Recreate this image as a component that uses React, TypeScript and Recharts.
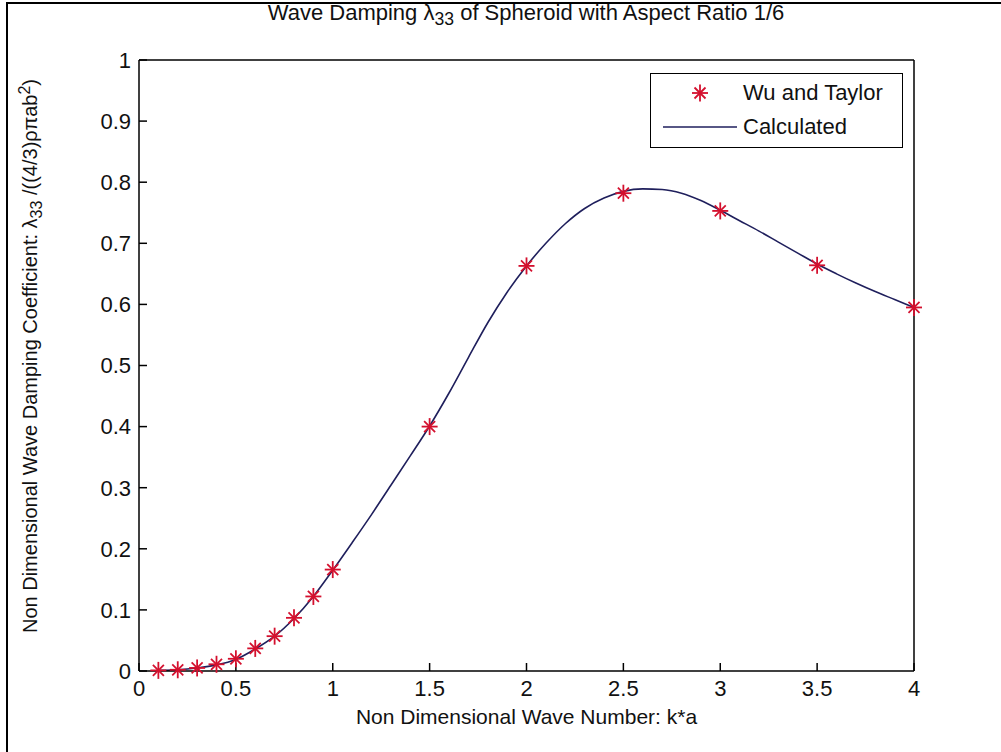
import React from 'react';
import { ComposedChart, Line, Scatter, XAxis, YAxis, Legend } from 'recharts';

// Wu and Taylor reference points (k*a, non-dimensional damping)
const waveNumbers = [0.1, 0.2, 0.3, 0.4, 0.5, 0.6, 0.7, 0.8, 0.9, 1.0, 1.5, 2.0, 2.5, 3.0, 3.5, 4.0];
const wuTaylor = [0.001, 0.002, 0.005, 0.011, 0.02, 0.037, 0.057, 0.087, 0.122, 0.166, 0.4, 0.663, 0.782, 0.753, 0.664, 0.595];

// calculated curve
const calcK = [
  0.1, 0.2, 0.3, 0.4, 0.5, 0.6, 0.7, 0.8, 0.9, 1.0,
  1.1, 1.2, 1.3, 1.4, 1.5, 1.6, 1.7, 1.8, 1.9, 2.0,
  2.1, 2.2, 2.3, 2.4, 2.5, 2.6, 2.7, 2.8, 2.9, 3.0,
  3.1, 3.2, 3.3, 3.4, 3.5, 3.6, 3.7, 3.8, 3.9, 4.0,
];
const calcDamping = [
  0.001, 0.002, 0.005, 0.01, 0.019, 0.036, 0.057, 0.086, 0.122, 0.165,
  0.21, 0.256, 0.304, 0.352, 0.401, 0.455, 0.513, 0.57, 0.62, 0.663,
  0.7, 0.732, 0.757, 0.774, 0.785, 0.789, 0.788, 0.782, 0.77, 0.754,
  0.737, 0.72, 0.702, 0.684, 0.666, 0.65, 0.635, 0.621, 0.608, 0.595,
];

const xTicks = [0, 0.5, 1, 1.5, 2, 2.5, 3, 3.5, 4];
const yTicks = [0, 0.1, 0.2, 0.3, 0.4, 0.5, 0.6, 0.7, 0.8, 0.9, 1];

const FONT = '"Liberation Sans", Arial, sans-serif';
const STAR = '#d4102e';
const LINE = '#1f1f5c';
const TXT = '#111';
const FS = 22;

const starData = waveNumbers.map((k, i) => ({ k, v: wuTaylor[i] }));
const lineData = calcK.map((k, i) => ({ k, v: calcDamping[i] }));

function Star({ cx, cy }: { cx?: number; cy?: number }) {
  if (cx == null || cy == null) return <g />;
  return (
    <g stroke={STAR} strokeWidth={1.8}>
      <line x1={cx} y1={cy - 8.5} x2={cx} y2={cy + 8.5} />
      <line x1={cx - 8} y1={cy} x2={cx + 8} y2={cy} />
      <line x1={cx - 5.5} y1={cy - 5.5} x2={cx + 5.5} y2={cy + 5.5} />
      <line x1={cx - 5.5} y1={cy + 5.5} x2={cx + 5.5} y2={cy - 5.5} />
    </g>
  );
}

const noTick = () => <g />;

const tickStyle = { fontSize: FS, fill: TXT, fontFamily: FONT };

function LegendBox() {
  return (
    <div
      style={{
        width: 253,
        height: 75,
        border: '1.5px solid #000',
        background: '#fff',
        boxSizing: 'border-box',
        position: 'relative',
        fontFamily: FONT,
        fontSize: FS,
        color: TXT,
      }}
    >
      <svg width={250} height={72} style={{ position: 'absolute', left: 0, top: 0 }}>
        <Star cx={49} cy={19} />
        <line x1={12} x2={86} y1={53} y2={53} stroke={LINE} strokeWidth={1.6} />
      </svg>
      <div style={{ position: 'absolute', left: 92, top: 19, transform: 'translateY(-50%)', whiteSpace: 'nowrap' }}>
        Wu and Taylor
      </div>
      <div style={{ position: 'absolute', left: 92, top: 53, transform: 'translateY(-50%)', whiteSpace: 'nowrap' }}>
        Calculated
      </div>
    </div>
  );
}

export default function App() {
  return (
    <div style={{ position: 'absolute', left: 0, top: 0, width: 1001, height: 752, background: '#fff', fontFamily: FONT }}>
      <div style={{ position: 'absolute', left: 6, top: 2, width: 995, height: 750, borderLeft: '2px solid #000', borderTop: '2px solid #000' }} />
      <ComposedChart width={1001} height={752} margin={{ top: 59, right: 86, bottom: 21, left: 0 }}>
        <XAxis
          xAxisId="b"
          dataKey="k"
          type="number"
          domain={[0, 4]}
          ticks={xTicks}
          interval={0}
          height={60}
          tickSize={-8}
          tickMargin={17}
          tick={tickStyle}
          stroke="#000"
          axisLine={{ stroke: '#000', strokeWidth: 1.5 }}
          tickLine={{ stroke: '#000', strokeWidth: 1.5 }}
          label={{ value: 'Non Dimensional Wave Number: k*a', position: 'insideBottom', offset: 7, fontSize: 21, fill: TXT, fontFamily: FONT }}
        />
        <XAxis
          xAxisId="t"
          orientation="top"
          dataKey="k"
          type="number"
          domain={[0, 4]}
          ticks={xTicks}
          interval={0}
          height={1}
          tickSize={-8}
          tick={noTick}
          axisLine={{ stroke: '#000', strokeWidth: 1.5 }}
          tickLine={{ stroke: '#000', strokeWidth: 1.5 }}
        />
        <YAxis
          yAxisId="l"
          type="number"
          domain={[0, 1]}
          ticks={yTicks}
          interval={0}
          width={139}
          tickSize={-8}
          tickMargin={16}
          tick={tickStyle}
          axisLine={{ stroke: '#000', strokeWidth: 1.5 }}
          tickLine={{ stroke: '#000', strokeWidth: 1.5 }}
        />
        <YAxis
          yAxisId="r"
          orientation="right"
          type="number"
          domain={[0, 1]}
          ticks={yTicks}
          interval={0}
          width={1}
          tickSize={-8}
          tick={noTick}
          axisLine={{ stroke: '#000', strokeWidth: 1.5 }}
          tickLine={{ stroke: '#000', strokeWidth: 1.5 }}
        />
        <Scatter
          name="Wu and Taylor"
          data={starData}
          dataKey="v"
          xAxisId="b"
          yAxisId="l"
          shape={(p: any) => <Star cx={p.cx} cy={p.cy} />}
          isAnimationActive={false}
        />
        <Line
          name="Calculated"
          data={lineData}
          dataKey="v"
          xAxisId="b"
          yAxisId="l"
          type="monotone"
          stroke={LINE}
          strokeWidth={1.6}
          dot={false}
          activeDot={false}
          isAnimationActive={false}
        />
        <Legend
          layout="horizontal"
          verticalAlign="middle"
          align="center"
          content={() => <LegendBox />}
          wrapperStyle={{ left: 650, top: 73, width: 253, height: 75 }}
        />
      </ComposedChart>
      <div
        style={{
          position: 'absolute',
          left: 526,
          top: 1,
          transform: 'translateX(-50%)',
          whiteSpace: 'nowrap',
          fontSize: 22,
          color: TXT,
          lineHeight: '24px',
        }}
      >
        Wave Damping λ<sub style={{ fontSize: '0.8em' }}>33</sub> of Spheroid with Aspect Ratio 1/6
      </div>
      <div
        style={{
          position: 'absolute',
          left: 31,
          top: 356,
          transform: 'translate(-50%, -50%) rotate(-90deg)',
          whiteSpace: 'nowrap',
          fontSize: 20,
          color: TXT,
          lineHeight: '24px',
        }}
      >
        Non Dimensional Wave Damping Coefficient: λ<sub style={{ fontSize: '0.8em' }}>33</sub> /((4/3)ρπab<sup style={{ fontSize: '0.8em' }}>2</sup>)
      </div>
    </div>
  );
}
